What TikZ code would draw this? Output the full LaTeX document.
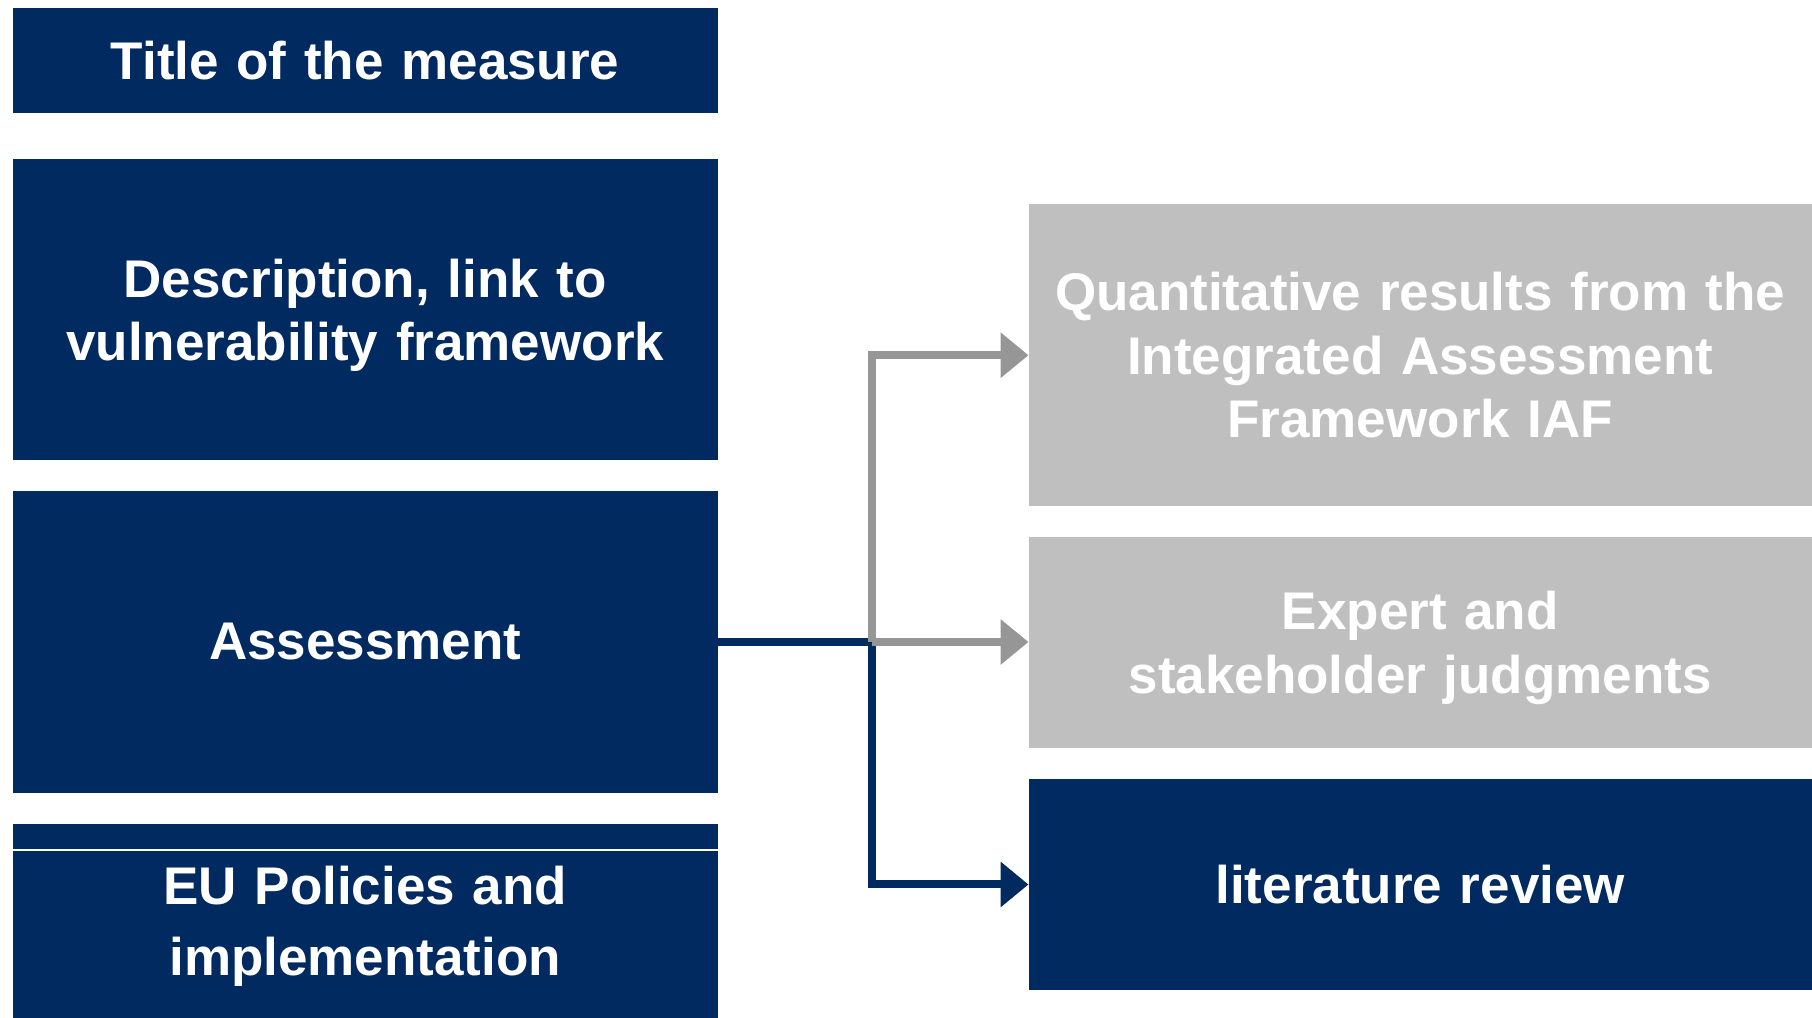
\documentclass[tikz,border=0pt]{standalone}
\usepackage{fontspec}
\setmainfont{Liberation Sans}
\usetikzlibrary{arrows.meta,positioning}
\definecolor{eunavy}{RGB}{0,42,96}
\definecolor{lightgrey}{RGB}{191,191,191}
\definecolor{arrowgrey}{RGB}{150,150,150}
\tikzstyle{block} = [rectangle, fill=eunavy, text=white, inner sep=0pt, outer sep=0pt,
    font=\fontsize{26.5}{31.75}\selectfont\bfseries, align=center,
    minimum width=352.5pt, text width=340pt]
\tikzstyle{result} = [block, minimum width=391.75pt, text width=380pt]
\tikzstyle{greyresult} = [result, fill=lightgrey]
\tikzstyle{link} = [->, line width=4pt]

\begin{document}
\begin{tikzpicture}[>={Triangle[length=14pt,width=22pt]},node distance=15.5pt]
  \useasboundingbox (0,0) rectangle (906pt,509pt);

  \node[block,minimum height=52.5pt,anchor=north west] (title) at (6.35pt,505pt) {Title of the measure};
  \node[block,minimum height=150.25pt,text depth=31.75pt] (descr) [below=23.25pt of title] {Description, link to\\vulnerability framework};
  \node[block,minimum height=151pt]    (assess) [below=of descr] {Assessment};
  \node[block,minimum height=97pt,text depth=35.5pt,font=\fontsize{26.5}{35.5}\selectfont\bfseries]
                                      (eu) [below=of assess] {EU Policies and\\implementation};

  \node[greyresult,minimum height=150.75pt,anchor=north west] (quant) at (514.25pt,406.75pt)
        {Quantitative results from the\\Integrated Assessment\\Framework IAF};
  \node[greyresult,minimum height=105.5pt,text depth=31.75pt] (expert) [below=of quant] {Expert and\\stakeholder judgments};
  \node[result,minimum height=105.5pt]     (lit) [below=of expert] {literature review};

  \draw[white,line width=0.8pt] ([yshift=-13pt]eu.north west) -- ([yshift=-13pt]eu.north east);

  \coordinate[right=77.25pt of assess.east] (split);
  \draw[link,eunavy] (assess.east) -- (split) |- (lit.west);
  \draw[link,arrowgrey] (split) |- (quant.west);
  \draw[link,arrowgrey] (split) -- (split -| expert.west);
\end{tikzpicture}
\end{document}
